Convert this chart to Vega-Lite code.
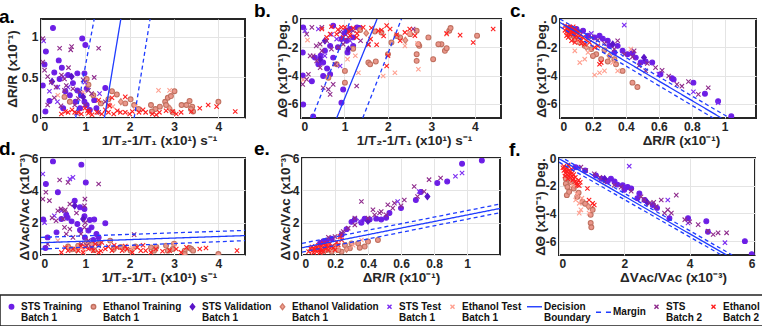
{
  "$schema": "https://vega.github.io/schema/vega-lite/v6.json",
  "background": "white",
  "padding": {"left": -2, "top": 1, "right": 0, "bottom": 0},
  "datasets": {
    "pts": [
      {"p":"a","s":"A","x":0.27,"y":1.11},{"p":"a","s":"A","x":0.93,"y":0.98},{"p":"a","s":"A","x":1.0,"y":0.9},{"p":"a","s":"A","x":0.11,"y":0.82},{"p":"a","s":"A","x":0.4,"y":0.71},{"p":"a","s":"A","x":0.61,"y":0.53},{"p":"a","s":"A","x":0.82,"y":0.55},{"p":"a","s":"A","x":0.98,"y":0.55},{"p":"a","s":"A","x":1.03,"y":0.36},{"p":"a","s":"A","x":0.82,"y":0.34},{"p":"a","s":"A","x":0.19,"y":0.21},{"p":"a","s":"A","x":0.1,"y":0.08},{"p":"a","s":"A","x":1.45,"y":0.37},{"p":"a","s":"A","x":0.04,"y":0.4},{"p":"a","s":"A","x":0.42,"y":0.48},{"p":"a","s":"A","x":0.65,"y":0.28},{"p":"a","s":"A","x":0.9,"y":0.28},{"p":"a","s":"A","x":0.98,"y":0.2},{"p":"a","s":"A","x":1.03,"y":0.16},{"p":"a","s":"A","x":1.1,"y":0.1},{"p":"a","s":"A","x":0.47,"y":0.62},{"p":"a","s":"A","x":0.72,"y":0.43},{"p":"a","s":"A","x":0.55,"y":0.33},{"p":"a","s":"A","x":0.3,"y":0.56},{"p":"a","s":"A","x":1.2,"y":0.22},{"p":"a","s":"A","x":0.88,"y":0.12},{"p":"a","s":"A","x":0.5,"y":0.12},{"p":"a","s":"A","x":0.78,"y":0.2},{"p":"a","s":"A","x":1.25,"y":0.12},{"p":"a","s":"A","x":0.08,"y":0.66},
      {"p":"a","s":"B","x":1.03,"y":0.48},{"p":"a","s":"B","x":1.07,"y":0.41},{"p":"a","s":"B","x":1.6,"y":0.33},{"p":"a","s":"B","x":1.71,"y":0.29},{"p":"a","s":"B","x":1.52,"y":0.23},{"p":"a","s":"B","x":2.02,"y":0.23},{"p":"a","s":"B","x":2.1,"y":0.16},{"p":"a","s":"B","x":2.48,"y":0.16},{"p":"a","s":"B","x":2.58,"y":0.11},{"p":"a","s":"B","x":2.8,"y":0.2},{"p":"a","s":"B","x":2.86,"y":0.25},{"p":"a","s":"B","x":2.93,"y":0.27},{"p":"a","s":"B","x":3.01,"y":0.33},{"p":"a","s":"B","x":2.82,"y":0.16},{"p":"a","s":"B","x":3.17,"y":0.16},{"p":"a","s":"B","x":3.28,"y":0.16},{"p":"a","s":"B","x":3.35,"y":0.21},{"p":"a","s":"B","x":3.41,"y":0.14},{"p":"a","s":"B","x":3.43,"y":0.08},{"p":"a","s":"B","x":4.0,"y":0.2},{"p":"a","s":"B","x":2.68,"y":0.14},{"p":"a","s":"B","x":2.97,"y":0.07},{"p":"a","s":"B","x":2.5,"y":0.08},{"p":"a","s":"B","x":1.18,"y":0.28},{"p":"a","s":"B","x":0.53,"y":0.26},{"p":"a","s":"B","x":0.65,"y":0.2},{"p":"a","s":"B","x":1.35,"y":0.18},{"p":"a","s":"B","x":3.38,"y":0.11},{"p":"a","s":"B","x":2.2,"y":0.11},{"p":"a","s":"B","x":1.9,"y":0.18},
      {"p":"a","s":"C","x":0.69,"y":0.51},{"p":"a","s":"C","x":0.95,"y":0.26},{"p":"a","s":"C","x":0.25,"y":0.45},
      {"p":"a","s":"D","x":1.8,"y":0.2},{"p":"a","s":"D","x":2.9,"y":0.12},
      {"p":"a","s":"E","x":0.38,"y":0.38},{"p":"a","s":"E","x":0.5,"y":0.51},{"p":"a","s":"E","x":0.61,"y":0.38},{"p":"a","s":"E","x":0.37,"y":0.2},{"p":"a","s":"E","x":0.99,"y":0.44},{"p":"a","s":"E","x":0.19,"y":0.33},{"p":"a","s":"E","x":0.06,"y":0.95},{"p":"a","s":"E","x":1.32,"y":0.3},
      {"p":"a","s":"F","x":0.95,"y":0.32},{"p":"a","s":"F","x":2.9,"y":0.34},{"p":"a","s":"F","x":0.38,"y":0.28},{"p":"a","s":"F","x":2.13,"y":0.14},{"p":"a","s":"F","x":2.65,"y":0.34},{"p":"a","s":"F","x":1.62,"y":0.14},
      {"p":"a","s":"I","x":0.08,"y":0.59},{"p":"a","s":"I","x":0.15,"y":0.51},{"p":"a","s":"I","x":0.23,"y":0.44},{"p":"a","s":"I","x":0.34,"y":0.38},{"p":"a","s":"I","x":0.46,"y":0.53},{"p":"a","s":"I","x":0.53,"y":0.48},{"p":"a","s":"I","x":0.57,"y":0.4},{"p":"a","s":"I","x":0.69,"y":0.88},{"p":"a","s":"I","x":0.67,"y":0.84},{"p":"a","s":"I","x":0.42,"y":0.86},{"p":"a","s":"I","x":0.72,"y":0.36},{"p":"a","s":"I","x":0.84,"y":0.24},{"p":"a","s":"I","x":0.88,"y":0.32},{"p":"a","s":"I","x":1.07,"y":0.34},{"p":"a","s":"I","x":1.14,"y":0.3},{"p":"a","s":"I","x":1.3,"y":0.86},{"p":"a","s":"I","x":0.76,"y":0.16},{"p":"a","s":"I","x":0.99,"y":0.16},{"p":"a","s":"I","x":1.3,"y":0.07},{"p":"a","s":"I","x":0.04,"y":0.69},{"p":"a","s":"I","x":0.15,"y":0.16},{"p":"a","s":"I","x":1.45,"y":0.2},{"p":"a","s":"I","x":0.53,"y":0.34},{"p":"a","s":"I","x":0.04,"y":0.98},{"p":"a","s":"I","x":0.62,"y":0.62},{"p":"a","s":"I","x":0.3,"y":0.25},{"p":"a","s":"I","x":0.95,"y":0.47},{"p":"a","s":"I","x":1.2,"y":0.5},{"p":"a","s":"I","x":0.45,"y":0.15},{"p":"a","s":"I","x":0.8,"y":0.06},
      {"p":"a","s":"J","x":0.46,"y":0.05},{"p":"a","s":"J","x":0.61,"y":0.07},{"p":"a","s":"J","x":0.76,"y":0.07},{"p":"a","s":"J","x":0.91,"y":0.05},{"p":"a","s":"J","x":1.07,"y":0.06},{"p":"a","s":"J","x":1.26,"y":0.07},{"p":"a","s":"J","x":1.37,"y":0.05},{"p":"a","s":"J","x":1.52,"y":0.07},{"p":"a","s":"J","x":1.64,"y":0.05},{"p":"a","s":"J","x":1.79,"y":0.07},{"p":"a","s":"J","x":1.9,"y":0.07},{"p":"a","s":"J","x":2.06,"y":0.08},{"p":"a","s":"J","x":2.21,"y":0.07},{"p":"a","s":"J","x":2.36,"y":0.07},{"p":"a","s":"J","x":2.51,"y":0.05},{"p":"a","s":"J","x":2.67,"y":0.07},{"p":"a","s":"J","x":2.82,"y":0.09},{"p":"a","s":"J","x":2.97,"y":0.08},{"p":"a","s":"J","x":3.16,"y":0.07},{"p":"a","s":"J","x":3.39,"y":0.08},{"p":"a","s":"J","x":3.58,"y":0.12},{"p":"a","s":"J","x":3.77,"y":0.16},{"p":"a","s":"J","x":3.96,"y":0.14},{"p":"a","s":"J","x":4.38,"y":0.08},{"p":"a","s":"J","x":0.99,"y":0.12},{"p":"a","s":"J","x":1.1,"y":0.08},{"p":"a","s":"J","x":0.84,"y":0.07},{"p":"a","s":"J","x":1.9,"y":0.26},{"p":"a","s":"J","x":1.52,"y":0.16},{"p":"a","s":"J","x":1.3,"y":0.22},{"p":"a","s":"J","x":1.15,"y":0.04},{"p":"a","s":"J","x":1.45,"y":0.1},{"p":"a","s":"J","x":1.72,"y":0.09},{"p":"a","s":"J","x":2.0,"y":0.05},{"p":"a","s":"J","x":2.3,"y":0.1},{"p":"a","s":"J","x":0.7,"y":0.1},{"p":"a","s":"J","x":1.05,"y":0.09},{"p":"a","s":"J","x":1.6,"y":0.25},{"p":"a","s":"J","x":1.55,"y":0.15},{"p":"a","s":"J","x":2.6,"y":0.04},{"p":"a","s":"J","x":3.05,"y":0.05},{"p":"a","s":"J","x":0.55,"y":0.08},

      {"p":"b","s":"A","x":0.05,"y":-0.59},{"p":"b","s":"A","x":0.04,"y":-2.37},{"p":"b","s":"A","x":0.04,"y":-4.0},{"p":"b","s":"A","x":0.05,"y":-6.04},{"p":"b","s":"A","x":0.32,"y":-2.73},{"p":"b","s":"A","x":0.4,"y":-3.2},{"p":"b","s":"A","x":0.55,"y":-2.25},{"p":"b","s":"A","x":0.51,"y":-3.08},{"p":"b","s":"A","x":0.67,"y":-1.9},{"p":"b","s":"A","x":0.67,"y":-3.9},{"p":"b","s":"A","x":0.74,"y":-2.73},{"p":"b","s":"A","x":0.93,"y":-1.42},{"p":"b","s":"A","x":1.05,"y":-0.83},{"p":"b","s":"A","x":1.05,"y":-1.54},{"p":"b","s":"A","x":1.13,"y":-0.71},{"p":"b","s":"A","x":1.2,"y":-1.3},{"p":"b","s":"A","x":1.29,"y":-0.59},{"p":"b","s":"A","x":1.34,"y":-0.64},{"p":"b","s":"A","x":0.28,"y":-6.9},{"p":"b","s":"A","x":0.93,"y":-5.92},{"p":"b","s":"A","x":0.97,"y":-4.98},{"p":"b","s":"A","x":0.51,"y":-4.03},{"p":"b","s":"A","x":0.74,"y":-0.47},{"p":"b","s":"A","x":1.2,"y":-1.9},{"p":"b","s":"A","x":1.07,"y":-2.37},{"p":"b","s":"A","x":0.25,"y":-4.4},{"p":"b","s":"A","x":0.6,"y":-3.5},{"p":"b","s":"A","x":0.85,"y":-2.0},{"p":"b","s":"A","x":0.45,"y":-2.6},{"p":"b","s":"A","x":1.0,"y":-1.0},
      {"p":"b","s":"B","x":1.01,"y":-4.5},{"p":"b","s":"B","x":1.01,"y":-3.67},{"p":"b","s":"B","x":1.55,"y":-3.08},{"p":"b","s":"B","x":1.59,"y":-3.2},{"p":"b","s":"B","x":1.72,"y":-3.0},{"p":"b","s":"B","x":2.0,"y":-2.49},{"p":"b","s":"B","x":2.08,"y":-1.66},{"p":"b","s":"B","x":2.28,"y":-1.3},{"p":"b","s":"B","x":2.51,"y":-1.07},{"p":"b","s":"B","x":2.66,"y":-0.83},{"p":"b","s":"B","x":2.66,"y":-2.49},{"p":"b","s":"B","x":2.72,"y":-1.9},{"p":"b","s":"B","x":2.93,"y":-1.3},{"p":"b","s":"B","x":2.66,"y":-2.96},{"p":"b","s":"B","x":3.04,"y":-2.84},{"p":"b","s":"B","x":3.23,"y":-1.78},{"p":"b","s":"B","x":3.31,"y":-2.25},{"p":"b","s":"B","x":3.35,"y":-2.06},{"p":"b","s":"B","x":3.41,"y":-0.83},{"p":"b","s":"B","x":3.44,"y":-0.64},{"p":"b","s":"B","x":4.05,"y":-1.18},{"p":"b","s":"B","x":3.16,"y":-1.78},{"p":"b","s":"B","x":2.7,"y":-1.78},{"p":"b","s":"B","x":1.7,"y":-0.88},{"p":"b","s":"B","x":1.85,"y":-0.95},{"p":"b","s":"B","x":1.36,"y":-0.78},{"p":"b","s":"B","x":0.82,"y":-3.2},{"p":"b","s":"B","x":0.63,"y":-4.15},{"p":"b","s":"B","x":1.2,"y":-2.1},{"p":"b","s":"B","x":2.2,"y":-1.2},
      {"p":"b","s":"C","x":0.55,"y":-1.54},{"p":"b","s":"C","x":1.09,"y":-2.13},{"p":"b","s":"C","x":0.44,"y":-2.84},
      {"p":"b","s":"D","x":2.4,"y":-1.5},{"p":"b","s":"D","x":1.5,"y":-1.0},
      {"p":"b","s":"E","x":0.09,"y":-0.83},{"p":"b","s":"E","x":0.4,"y":-0.71},{"p":"b","s":"E","x":0.55,"y":-2.61},{"p":"b","s":"E","x":0.82,"y":-1.42},{"p":"b","s":"E","x":0.9,"y":-3.32},{"p":"b","s":"E","x":1.13,"y":-1.54},{"p":"b","s":"E","x":0.7,"y":-1.1},
      {"p":"b","s":"F","x":1.07,"y":-2.84},{"p":"b","s":"F","x":1.89,"y":-4.03},{"p":"b","s":"F","x":2.16,"y":-3.8},{"p":"b","s":"F","x":2.7,"y":-3.55},{"p":"b","s":"F","x":2.68,"y":-1.73},{"p":"b","s":"F","x":2.39,"y":-1.9},{"p":"b","s":"F","x":1.32,"y":-3.8},{"p":"b","s":"F","x":0.15,"y":-1.49},{"p":"b","s":"F","x":2.5,"y":-1.02},{"p":"b","s":"F","x":3.35,"y":-1.07},{"p":"b","s":"F","x":1.25,"y":-2.6},{"p":"b","s":"F","x":0.05,"y":-4.3},
      {"p":"b","s":"I","x":0.13,"y":-1.07},{"p":"b","s":"I","x":0.25,"y":-0.59},{"p":"b","s":"I","x":0.48,"y":-0.59},{"p":"b","s":"I","x":0.48,"y":-2.25},{"p":"b","s":"I","x":0.28,"y":-2.61},{"p":"b","s":"I","x":0.36,"y":-2.96},{"p":"b","s":"I","x":0.44,"y":-3.44},{"p":"b","s":"I","x":0.51,"y":-4.86},{"p":"b","s":"I","x":0.63,"y":-4.98},{"p":"b","s":"I","x":0.67,"y":-5.33},{"p":"b","s":"I","x":0.74,"y":-4.62},{"p":"b","s":"I","x":0.17,"y":-3.91},{"p":"b","s":"I","x":0.04,"y":-4.62},{"p":"b","s":"I","x":0.13,"y":-4.27},{"p":"b","s":"I","x":0.7,"y":-2.13},{"p":"b","s":"I","x":0.86,"y":-2.01},{"p":"b","s":"I","x":0.97,"y":-1.78},{"p":"b","s":"I","x":1.09,"y":-0.78},{"p":"b","s":"I","x":1.2,"y":-0.83},{"p":"b","s":"I","x":1.37,"y":-1.54},{"p":"b","s":"I","x":1.28,"y":-4.74},{"p":"b","s":"I","x":1.55,"y":-1.78},{"p":"b","s":"I","x":1.09,"y":-1.3},{"p":"b","s":"I","x":2.58,"y":-0.71},{"p":"b","s":"I","x":0.59,"y":-1.54},{"p":"b","s":"I","x":0.44,"y":-1.78},{"p":"b","s":"I","x":0.78,"y":-3.2},{"p":"b","s":"I","x":0.21,"y":-2.61},{"p":"b","s":"I","x":0.9,"y":-0.9},{"p":"b","s":"I","x":0.35,"y":-1.9},
      {"p":"b","s":"J","x":0.48,"y":-0.71},{"p":"b","s":"J","x":0.7,"y":-0.55},{"p":"b","s":"J","x":0.82,"y":-1.07},{"p":"b","s":"J","x":0.93,"y":-0.59},{"p":"b","s":"J","x":1.01,"y":-0.59},{"p":"b","s":"J","x":1.2,"y":-0.64},{"p":"b","s":"J","x":1.29,"y":-1.02},{"p":"b","s":"J","x":1.43,"y":-0.59},{"p":"b","s":"J","x":1.55,"y":-1.82},{"p":"b","s":"J","x":1.6,"y":-1.42},{"p":"b","s":"J","x":1.74,"y":-1.82},{"p":"b","s":"J","x":1.85,"y":-0.78},{"p":"b","s":"J","x":1.97,"y":-0.47},{"p":"b","s":"J","x":2.05,"y":-0.71},{"p":"b","s":"J","x":2.2,"y":-1.11},{"p":"b","s":"J","x":2.39,"y":-0.95},{"p":"b","s":"J","x":2.5,"y":-0.71},{"p":"b","s":"J","x":2.62,"y":-1.18},{"p":"b","s":"J","x":3.35,"y":-1.02},{"p":"b","s":"J","x":3.66,"y":-1.14},{"p":"b","s":"J","x":3.96,"y":-1.66},{"p":"b","s":"J","x":4.42,"y":-0.71},{"p":"b","s":"J","x":1.97,"y":-3.32},{"p":"b","s":"J","x":1.78,"y":-0.83},{"p":"b","s":"J","x":1.62,"y":-0.64},{"p":"b","s":"J","x":0.67,"y":-1.07},{"p":"b","s":"J","x":0.59,"y":-1.3},{"p":"b","s":"J","x":0.97,"y":-1.3},{"p":"b","s":"J","x":1.13,"y":-1.18},{"p":"b","s":"J","x":1.28,"y":-1.3},{"p":"b","s":"J","x":2.28,"y":-1.54},{"p":"b","s":"J","x":1.1,"y":-0.9},{"p":"b","s":"J","x":0.85,"y":-0.75},{"p":"b","s":"J","x":1.9,"y":-1.2},{"p":"b","s":"J","x":2.0,"y":-2.6},

      {"p":"c","s":"A","x":0.1,"y":-0.71},{"p":"c","s":"A","x":0.14,"y":-0.83},{"p":"c","s":"A","x":0.21,"y":-1.3},{"p":"c","s":"A","x":0.24,"y":-1.18},{"p":"c","s":"A","x":0.29,"y":-1.54},{"p":"c","s":"A","x":0.35,"y":-1.9},{"p":"c","s":"A","x":0.38,"y":-2.25},{"p":"c","s":"A","x":0.41,"y":-2.49},{"p":"c","s":"A","x":0.46,"y":-2.73},{"p":"c","s":"A","x":0.49,"y":-3.08},{"p":"c","s":"A","x":0.56,"y":-3.08},{"p":"c","s":"A","x":0.61,"y":-3.91},{"p":"c","s":"A","x":0.68,"y":-4.19},{"p":"c","s":"A","x":0.69,"y":-4.27},{"p":"c","s":"A","x":0.81,"y":-4.5},{"p":"c","s":"A","x":0.88,"y":-5.28},{"p":"c","s":"A","x":0.96,"y":-5.81},{"p":"c","s":"A","x":1.04,"y":-6.88},{"p":"c","s":"A","x":0.17,"y":-1.18},{"p":"c","s":"A","x":0.33,"y":-2.37},{"p":"c","s":"A","x":0.26,"y":-1.4},{"p":"c","s":"A","x":0.44,"y":-2.4},{"p":"c","s":"A","x":0.52,"y":-3.0},{"p":"c","s":"A","x":0.3,"y":-1.9},{"p":"c","s":"A","x":0.06,"y":-0.6},
      {"p":"c","s":"B","x":0.06,"y":-1.18},{"p":"c","s":"B","x":0.09,"y":-1.42},{"p":"c","s":"B","x":0.12,"y":-1.66},{"p":"c","s":"B","x":0.15,"y":-1.9},{"p":"c","s":"B","x":0.19,"y":-2.13},{"p":"c","s":"B","x":0.22,"y":-2.49},{"p":"c","s":"B","x":0.25,"y":-2.84},{"p":"c","s":"B","x":0.29,"y":-3.0},{"p":"c","s":"B","x":0.33,"y":-2.84},{"p":"c","s":"B","x":0.38,"y":-3.67},{"p":"c","s":"B","x":0.44,"y":-4.5},{"p":"c","s":"B","x":0.47,"y":-4.81},{"p":"c","s":"B","x":0.34,"y":-3.2},{"p":"c","s":"B","x":0.2,"y":-2.61},{"p":"c","s":"B","x":0.08,"y":-1.0},{"p":"c","s":"B","x":0.27,"y":-2.2},
      {"p":"c","s":"C","x":0.32,"y":-1.78},{"p":"c","s":"C","x":0.51,"y":-2.73},
      {"p":"c","s":"D","x":0.16,"y":-2.0},{"p":"c","s":"D","x":0.3,"y":-2.6},
      {"p":"c","s":"E","x":0.39,"y":-0.43},{"p":"c","s":"E","x":0.81,"y":-5.14},{"p":"c","s":"E","x":0.96,"y":-5.92},{"p":"c","s":"E","x":0.19,"y":-1.02},{"p":"c","s":"E","x":0.6,"y":-3.9},
      {"p":"c","s":"F","x":0.15,"y":-2.84},{"p":"c","s":"F","x":0.12,"y":-3.08},{"p":"c","s":"F","x":0.21,"y":-3.96},{"p":"c","s":"F","x":0.24,"y":-3.8},{"p":"c","s":"F","x":0.27,"y":-3.67},{"p":"c","s":"F","x":0.35,"y":-3.67},{"p":"c","s":"F","x":0.43,"y":-2.13},{"p":"c","s":"F","x":0.17,"y":-2.37},{"p":"c","s":"F","x":0.09,"y":-2.25},{"p":"c","s":"F","x":0.32,"y":-3.08},{"p":"c","s":"F","x":0.11,"y":-1.6},
      {"p":"c","s":"I","x":0.05,"y":-0.59},{"p":"c","s":"I","x":0.12,"y":-0.88},{"p":"c","s":"I","x":0.19,"y":-1.3},{"p":"c","s":"I","x":0.27,"y":-1.73},{"p":"c","s":"I","x":0.33,"y":-2.13},{"p":"c","s":"I","x":0.39,"y":-2.49},{"p":"c","s":"I","x":0.44,"y":-2.68},{"p":"c","s":"I","x":0.53,"y":-3.15},{"p":"c","s":"I","x":0.58,"y":-3.44},{"p":"c","s":"I","x":0.62,"y":-3.63},{"p":"c","s":"I","x":0.66,"y":-4.03},{"p":"c","s":"I","x":0.71,"y":-4.62},{"p":"c","s":"I","x":0.78,"y":-4.43},{"p":"c","s":"I","x":0.84,"y":-5.33},{"p":"c","s":"I","x":0.9,"y":-4.86},{"p":"c","s":"I","x":0.52,"y":-3.67},{"p":"c","s":"I","x":0.35,"y":-1.54},{"p":"c","s":"I","x":0.45,"y":-2.25},{"p":"c","s":"I","x":0.08,"y":-0.7},{"p":"c","s":"I","x":0.23,"y":-1.5},{"p":"c","s":"I","x":0.48,"y":-3.3},{"p":"c","s":"I","x":0.74,"y":-4.75},
      {"p":"c","s":"J","x":0.03,"y":-0.47},{"p":"c","s":"J","x":0.04,"y":-0.71},{"p":"c","s":"J","x":0.05,"y":-0.95},{"p":"c","s":"J","x":0.06,"y":-0.59},{"p":"c","s":"J","x":0.07,"y":-0.83},{"p":"c","s":"J","x":0.08,"y":-1.07},{"p":"c","s":"J","x":0.09,"y":-0.71},{"p":"c","s":"J","x":0.1,"y":-1.18},{"p":"c","s":"J","x":0.11,"y":-1.3},{"p":"c","s":"J","x":0.12,"y":-1.42},{"p":"c","s":"J","x":0.04,"y":-1.18},{"p":"c","s":"J","x":0.05,"y":-1.3},{"p":"c","s":"J","x":0.07,"y":-1.54},{"p":"c","s":"J","x":0.09,"y":-1.66},{"p":"c","s":"J","x":0.13,"y":-1.73},{"p":"c","s":"J","x":0.15,"y":-1.78},{"p":"c","s":"J","x":0.18,"y":-1.66},{"p":"c","s":"J","x":0.21,"y":-2.01},{"p":"c","s":"J","x":0.23,"y":-1.9},{"p":"c","s":"J","x":0.24,"y":-3.2},{"p":"c","s":"J","x":0.25,"y":-3.08},{"p":"c","s":"J","x":0.06,"y":-0.75},{"p":"c","s":"J","x":0.07,"y":-1.0},{"p":"c","s":"J","x":0.05,"y":-0.6},{"p":"c","s":"J","x":0.08,"y":-0.9},{"p":"c","s":"J","x":0.1,"y":-1.0},{"p":"c","s":"J","x":0.04,"y":-0.9},{"p":"c","s":"J","x":0.06,"y":-1.1},{"p":"c","s":"J","x":0.09,"y":-1.3},{"p":"c","s":"J","x":0.11,"y":-0.9},{"p":"c","s":"J","x":0.13,"y":-1.5},{"p":"c","s":"J","x":0.12,"y":-1.2},{"p":"c","s":"J","x":0.03,"y":-0.8},{"p":"c","s":"J","x":0.16,"y":-1.5},{"p":"c","s":"J","x":0.14,"y":-1.3},{"p":"c","s":"J","x":0.08,"y":-0.55},

      {"p":"d","s":"A","x":0.27,"y":5.79},{"p":"d","s":"A","x":0.91,"y":5.59},{"p":"d","s":"A","x":1.01,"y":4.49},{"p":"d","s":"A","x":0.11,"y":4.39},{"p":"d","s":"A","x":0.38,"y":3.88},{"p":"d","s":"A","x":0.76,"y":3.36},{"p":"d","s":"A","x":0.88,"y":2.95},{"p":"d","s":"A","x":0.98,"y":2.85},{"p":"d","s":"A","x":0.57,"y":2.49},{"p":"d","s":"A","x":1.1,"y":2.16},{"p":"d","s":"A","x":0.46,"y":2.23},{"p":"d","s":"A","x":0.69,"y":2.08},{"p":"d","s":"A","x":0.82,"y":1.92},{"p":"d","s":"A","x":0.88,"y":1.55},{"p":"d","s":"A","x":1.14,"y":1.71},{"p":"d","s":"A","x":1.3,"y":1.09},{"p":"d","s":"A","x":1.45,"y":1.96},{"p":"d","s":"A","x":0.15,"y":1.09},{"p":"d","s":"A","x":0.1,"y":0.43},{"p":"d","s":"A","x":0.99,"y":1.09},{"p":"d","s":"A","x":1.07,"y":1.51},{"p":"d","s":"A","x":1.18,"y":0.93},{"p":"d","s":"A","x":0.6,"y":2.3},{"p":"d","s":"A","x":0.98,"y":2.4},{"p":"d","s":"A","x":1.2,"y":2.2},{"p":"d","s":"A","x":0.35,"y":1.4},{"p":"d","s":"A","x":1.25,"y":1.3},{"p":"d","s":"A","x":0.05,"y":2.2},
      {"p":"d","s":"B","x":0.61,"y":0.52},{"p":"d","s":"B","x":0.84,"y":0.58},{"p":"d","s":"B","x":1.03,"y":0.78},{"p":"d","s":"B","x":1.14,"y":0.64},{"p":"d","s":"B","x":1.3,"y":0.68},{"p":"d","s":"B","x":1.64,"y":0.37},{"p":"d","s":"B","x":2.02,"y":0.27},{"p":"d","s":"B","x":2.13,"y":0.52},{"p":"d","s":"B","x":2.48,"y":0.47},{"p":"d","s":"B","x":2.55,"y":0.27},{"p":"d","s":"B","x":2.82,"y":0.58},{"p":"d","s":"B","x":2.97,"y":0.37},{"p":"d","s":"B","x":3.24,"y":0.27},{"p":"d","s":"B","x":3.35,"y":0.43},{"p":"d","s":"B","x":3.39,"y":0.37},{"p":"d","s":"B","x":3.43,"y":0.27},{"p":"d","s":"B","x":3.24,"y":0.06},{"p":"d","s":"B","x":4.0,"y":0.06},{"p":"d","s":"B","x":2.86,"y":0.27},{"p":"d","s":"B","x":1.56,"y":0.89},{"p":"d","s":"B","x":1.2,"y":0.3},{"p":"d","s":"B","x":0.7,"y":0.35},{"p":"d","s":"B","x":2.6,"y":0.5},{"p":"d","s":"B","x":1.8,"y":0.5},{"p":"d","s":"B","x":3.0,"y":0.7},
      {"p":"d","s":"C","x":0.76,"y":3.05},{"p":"d","s":"C","x":0.95,"y":2.23},
      {"p":"d","s":"D","x":1.9,"y":0.4},{"p":"d","s":"D","x":0.8,"y":0.3},
      {"p":"d","s":"E","x":0.04,"y":5.01},{"p":"d","s":"E","x":0.46,"y":2.74},{"p":"d","s":"E","x":0.72,"y":4.8},{"p":"d","s":"E","x":0.65,"y":4.7},{"p":"d","s":"E","x":0.3,"y":2.43},{"p":"d","s":"E","x":1.14,"y":0.47},{"p":"d","s":"E","x":0.08,"y":2.0},
      {"p":"d","s":"F","x":0.38,"y":0.89},{"p":"d","s":"F","x":3.01,"y":0.68},{"p":"d","s":"F","x":2.06,"y":0.43},{"p":"d","s":"F","x":0.95,"y":0.3},
      {"p":"d","s":"I","x":0.04,"y":3.46},{"p":"d","s":"I","x":0.11,"y":3.88},{"p":"d","s":"I","x":0.19,"y":3.36},{"p":"d","s":"I","x":0.42,"y":4.64},{"p":"d","s":"I","x":0.61,"y":4.49},{"p":"d","s":"I","x":0.65,"y":3.15},{"p":"d","s":"I","x":0.53,"y":2.74},{"p":"d","s":"I","x":0.38,"y":2.74},{"p":"d","s":"I","x":0.5,"y":2.23},{"p":"d","s":"I","x":0.34,"y":2.12},{"p":"d","s":"I","x":0.53,"y":1.71},{"p":"d","s":"I","x":0.57,"y":1.3},{"p":"d","s":"I","x":0.72,"y":1.09},{"p":"d","s":"I","x":0.91,"y":0.68},{"p":"d","s":"I","x":1.03,"y":0.58},{"p":"d","s":"I","x":0.99,"y":3.46},{"p":"d","s":"I","x":0.98,"y":3.05},{"p":"d","s":"I","x":1.3,"y":4.39},{"p":"d","s":"I","x":1.07,"y":0.89},{"p":"d","s":"I","x":0.9,"y":1.3},{"p":"d","s":"I","x":0.98,"y":1.71},{"p":"d","s":"I","x":2.1,"y":1.26},{"p":"d","s":"I","x":0.15,"y":0.68},{"p":"d","s":"I","x":1.3,"y":0.58},{"p":"d","s":"I","x":0.45,"y":2.85},{"p":"d","s":"I","x":0.55,"y":2.8},{"p":"d","s":"I","x":0.8,"y":2.6},{"p":"d","s":"I","x":1.0,"y":2.0},{"p":"d","s":"I","x":0.65,"y":1.6},{"p":"d","s":"I","x":0.25,"y":2.3},
      {"p":"d","s":"J","x":0.46,"y":0.16},{"p":"d","s":"J","x":0.61,"y":0.27},{"p":"d","s":"J","x":0.72,"y":0.37},{"p":"d","s":"J","x":0.84,"y":0.27},{"p":"d","s":"J","x":0.95,"y":0.16},{"p":"d","s":"J","x":1.07,"y":0.37},{"p":"d","s":"J","x":1.18,"y":0.27},{"p":"d","s":"J","x":1.3,"y":0.16},{"p":"d","s":"J","x":1.45,"y":0.37},{"p":"d","s":"J","x":1.6,"y":0.27},{"p":"d","s":"J","x":1.71,"y":0.47},{"p":"d","s":"J","x":1.83,"y":0.27},{"p":"d","s":"J","x":1.94,"y":0.37},{"p":"d","s":"J","x":2.06,"y":0.16},{"p":"d","s":"J","x":2.17,"y":0.47},{"p":"d","s":"J","x":2.25,"y":0.27},{"p":"d","s":"J","x":2.36,"y":0.27},{"p":"d","s":"J","x":2.48,"y":0.16},{"p":"d","s":"J","x":2.59,"y":0.37},{"p":"d","s":"J","x":2.74,"y":0.23},{"p":"d","s":"J","x":2.9,"y":0.27},{"p":"d","s":"J","x":3.05,"y":0.37},{"p":"d","s":"J","x":3.16,"y":0.16},{"p":"d","s":"J","x":3.28,"y":0.47},{"p":"d","s":"J","x":3.58,"y":0.37},{"p":"d","s":"J","x":3.72,"y":0.43},{"p":"d","s":"J","x":4.42,"y":0.27},{"p":"d","s":"J","x":1.22,"y":0.68},{"p":"d","s":"J","x":1.37,"y":0.78},{"p":"d","s":"J","x":1.52,"y":0.52},{"p":"d","s":"J","x":1.0,"y":0.5},{"p":"d","s":"J","x":1.15,"y":0.45},{"p":"d","s":"J","x":0.9,"y":0.55},{"p":"d","s":"J","x":1.65,"y":0.6},{"p":"d","s":"J","x":1.9,"y":0.55},{"p":"d","s":"J","x":2.3,"y":0.6},{"p":"d","s":"J","x":0.55,"y":0.45},{"p":"d","s":"J","x":1.35,"y":0.25},

      {"p":"e","s":"A","x":1.09,"y":5.85},{"p":"e","s":"A","x":0.97,"y":5.65},{"p":"e","s":"A","x":0.82,"y":4.45},{"p":"e","s":"A","x":0.88,"y":4.55},{"p":"e","s":"A","x":0.69,"y":3.4},{"p":"e","s":"A","x":0.48,"y":2.2},{"p":"e","s":"A","x":0.41,"y":2.2},{"p":"e","s":"A","x":0.36,"y":2.0},{"p":"e","s":"A","x":0.3,"y":2.05},{"p":"e","s":"A","x":0.13,"y":0.85},{"p":"e","s":"A","x":0.11,"y":0.75},{"p":"e","s":"A","x":0.51,"y":2.3},{"p":"e","s":"A","x":0.32,"y":2.2},{"p":"e","s":"A","x":0.24,"y":1.25},{"p":"e","s":"A","x":0.72,"y":3.9},{"p":"e","s":"A","x":0.6,"y":2.9},{"p":"e","s":"A","x":0.45,"y":2.25},{"p":"e","s":"A","x":0.38,"y":2.25},{"p":"e","s":"A","x":0.18,"y":1.0},{"p":"e","s":"A","x":0.15,"y":0.9},{"p":"e","s":"A","x":0.53,"y":2.6},{"p":"e","s":"A","x":0.27,"y":1.6},
      {"p":"e","s":"B","x":0.2,"y":0.52},{"p":"e","s":"B","x":0.26,"y":0.62},{"p":"e","s":"B","x":0.3,"y":0.72},{"p":"e","s":"B","x":0.34,"y":0.72},{"p":"e","s":"B","x":0.4,"y":0.83},{"p":"e","s":"B","x":0.46,"y":0.93},{"p":"e","s":"B","x":0.18,"y":0.21},{"p":"e","s":"B","x":0.15,"y":0.31},{"p":"e","s":"B","x":0.12,"y":0.21},{"p":"e","s":"B","x":0.24,"y":0.21},{"p":"e","s":"B","x":0.29,"y":0.41},{"p":"e","s":"B","x":0.38,"y":0.52},{"p":"e","s":"B","x":0.22,"y":0.3},{"p":"e","s":"B","x":0.35,"y":0.45},
      {"p":"e","s":"C","x":0.76,"y":3.62},{"p":"e","s":"C","x":0.4,"y":2.1},
      {"p":"e","s":"D","x":0.27,"y":0.35},{"p":"e","s":"D","x":0.17,"y":0.4},
      {"p":"e","s":"E","x":0.97,"y":5.07},{"p":"e","s":"E","x":0.93,"y":4.87},{"p":"e","s":"E","x":0.71,"y":3.93},{"p":"e","s":"E","x":0.58,"y":3.31},{"p":"e","s":"E","x":0.35,"y":2.1},
      {"p":"e","s":"F","x":0.22,"y":0.52},{"p":"e","s":"F","x":0.36,"y":0.93},{"p":"e","s":"F","x":0.17,"y":0.41},{"p":"e","s":"F","x":0.31,"y":0.6},
      {"p":"e","s":"I","x":0.68,"y":4.24},{"p":"e","s":"I","x":0.77,"y":4.66},{"p":"e","s":"I","x":0.84,"y":4.76},{"p":"e","s":"I","x":0.36,"y":3.31},{"p":"e","s":"I","x":0.48,"y":2.69},{"p":"e","s":"I","x":0.52,"y":3.11},{"p":"e","s":"I","x":0.56,"y":3.21},{"p":"e","s":"I","x":0.51,"y":2.48},{"p":"e","s":"I","x":0.44,"y":2.48},{"p":"e","s":"I","x":0.4,"y":2.28},{"p":"e","s":"I","x":0.32,"y":1.86},{"p":"e","s":"I","x":0.28,"y":1.66},{"p":"e","s":"I","x":0.24,"y":1.35},{"p":"e","s":"I","x":0.2,"y":1.14},{"p":"e","s":"I","x":0.32,"y":2.28},{"p":"e","s":"I","x":0.7,"y":3.62},{"p":"e","s":"I","x":0.74,"y":3.93},{"p":"e","s":"I","x":0.43,"y":2.8},{"p":"e","s":"I","x":0.25,"y":1.45},{"p":"e","s":"I","x":0.62,"y":3.4},{"p":"e","s":"I","x":0.55,"y":2.9},{"p":"e","s":"I","x":0.6,"y":3.05},{"p":"e","s":"I","x":0.16,"y":1.1},{"p":"e","s":"I","x":0.47,"y":2.6},
      {"p":"e","s":"J","x":0.04,"y":0.21},{"p":"e","s":"J","x":0.05,"y":0.41},{"p":"e","s":"J","x":0.07,"y":0.31},{"p":"e","s":"J","x":0.08,"y":0.52},{"p":"e","s":"J","x":0.09,"y":0.21},{"p":"e","s":"J","x":0.1,"y":0.41},{"p":"e","s":"J","x":0.11,"y":0.31},{"p":"e","s":"J","x":0.12,"y":0.52},{"p":"e","s":"J","x":0.13,"y":0.21},{"p":"e","s":"J","x":0.14,"y":0.41},{"p":"e","s":"J","x":0.15,"y":0.62},{"p":"e","s":"J","x":0.16,"y":0.31},{"p":"e","s":"J","x":0.17,"y":0.72},{"p":"e","s":"J","x":0.18,"y":0.52},{"p":"e","s":"J","x":0.2,"y":0.31},{"p":"e","s":"J","x":0.22,"y":0.62},{"p":"e","s":"J","x":0.24,"y":0.93},{"p":"e","s":"J","x":0.23,"y":1.14},{"p":"e","s":"J","x":0.06,"y":0.25},{"p":"e","s":"J","x":0.08,"y":0.35},{"p":"e","s":"J","x":0.1,"y":0.6},{"p":"e","s":"J","x":0.12,"y":0.3},{"p":"e","s":"J","x":0.14,"y":0.6},{"p":"e","s":"J","x":0.09,"y":0.45},{"p":"e","s":"J","x":0.06,"y":0.5},{"p":"e","s":"J","x":0.16,"y":0.5},{"p":"e","s":"J","x":0.11,"y":0.15},{"p":"e","s":"J","x":0.07,"y":0.15},{"p":"e","s":"J","x":0.19,"y":0.45},{"p":"e","s":"J","x":0.13,"y":0.7},{"p":"e","s":"J","x":0.21,"y":0.8},

      {"p":"f","s":"A","x":0.51,"y":-0.66},{"p":"f","s":"A","x":1.13,"y":-1.26},{"p":"f","s":"A","x":1.59,"y":-1.49},{"p":"f","s":"A","x":1.79,"y":-1.92},{"p":"f","s":"A","x":1.95,"y":-1.97},{"p":"f","s":"A","x":2.1,"y":-2.09},{"p":"f","s":"A","x":2.46,"y":-2.56},{"p":"f","s":"A","x":2.62,"y":-3.03},{"p":"f","s":"A","x":2.87,"y":-3.39},{"p":"f","s":"A","x":3.38,"y":-4.34},{"p":"f","s":"A","x":3.95,"y":-4.34},{"p":"f","s":"A","x":4.51,"y":-4.57},{"p":"f","s":"A","x":4.56,"y":-5.33},{"p":"f","s":"A","x":5.69,"y":-6.0},{"p":"f","s":"A","x":5.9,"y":-6.94},{"p":"f","s":"A","x":1.49,"y":-1.68},{"p":"f","s":"A","x":2.21,"y":-2.2},{"p":"f","s":"A","x":0.8,"y":-0.9},{"p":"f","s":"A","x":1.3,"y":-1.5},{"p":"f","s":"A","x":2.0,"y":-2.3},{"p":"f","s":"A","x":2.4,"y":-2.9},{"p":"f","s":"A","x":3.0,"y":-3.6},{"p":"f","s":"A","x":1.7,"y":-1.7},
      {"p":"f","s":"B","x":0.21,"y":-1.85},{"p":"f","s":"B","x":0.26,"y":-2.09},{"p":"f","s":"B","x":0.24,"y":-2.68},{"p":"f","s":"B","x":0.31,"y":-2.44},{"p":"f","s":"B","x":0.56,"y":-2.8},{"p":"f","s":"B","x":0.72,"y":-3.15},{"p":"f","s":"B","x":0.97,"y":-4.1},{"p":"f","s":"B","x":1.03,"y":-3.74},{"p":"f","s":"B","x":0.97,"y":-4.69},{"p":"f","s":"B","x":0.99,"y":-5.0},{"p":"f","s":"B","x":0.21,"y":-1.49},{"p":"f","s":"B","x":0.36,"y":-1.73},{"p":"f","s":"B","x":0.45,"y":-2.2},{"p":"f","s":"B","x":0.6,"y":-2.5},{"p":"f","s":"B","x":0.8,"y":-3.3},
      {"p":"f","s":"C","x":1.4,"y":-1.5},{"p":"f","s":"C","x":2.7,"y":-3.2},
      {"p":"f","s":"D","x":0.5,"y":-2.0},{"p":"f","s":"D","x":0.9,"y":-3.5},
      {"p":"f","s":"E","x":2.15,"y":-0.59},{"p":"f","s":"E","x":5.08,"y":-6.11},{"p":"f","s":"E","x":3.95,"y":-4.69},{"p":"f","s":"E","x":3.33,"y":-3.03},{"p":"f","s":"E","x":0.6,"y":-0.7},
      {"p":"f","s":"F","x":0.51,"y":-3.03},{"p":"f","s":"F","x":0.62,"y":-3.27},{"p":"f","s":"F","x":0.67,"y":-3.74},{"p":"f","s":"F","x":0.62,"y":-3.98},{"p":"f","s":"F","x":0.92,"y":-3.98},{"p":"f","s":"F","x":0.41,"y":-1.97},{"p":"f","s":"F","x":0.55,"y":-2.6},{"p":"f","s":"F","x":0.7,"y":-2.9},
      {"p":"f","s":"I","x":0.67,"y":-0.66},{"p":"f","s":"I","x":1.08,"y":-1.14},{"p":"f","s":"I","x":1.38,"y":-1.73},{"p":"f","s":"I","x":1.69,"y":-1.97},{"p":"f","s":"I","x":2.21,"y":-2.39},{"p":"f","s":"I","x":2.51,"y":-2.8},{"p":"f","s":"I","x":2.77,"y":-3.27},{"p":"f","s":"I","x":2.97,"y":-3.51},{"p":"f","s":"I","x":3.13,"y":-3.03},{"p":"f","s":"I","x":3.23,"y":-3.98},{"p":"f","s":"I","x":3.44,"y":-3.98},{"p":"f","s":"I","x":3.59,"y":-2.68},{"p":"f","s":"I","x":3.85,"y":-4.45},{"p":"f","s":"I","x":4.26,"y":-4.81},{"p":"f","s":"I","x":4.56,"y":-5.28},{"p":"f","s":"I","x":4.72,"y":-5.52},{"p":"f","s":"I","x":4.87,"y":-5.4},{"p":"f","s":"I","x":5.13,"y":-5.4},{"p":"f","s":"I","x":3.33,"y":-3.74},{"p":"f","s":"I","x":0.82,"y":-0.9},{"p":"f","s":"I","x":1.9,"y":-2.1},{"p":"f","s":"I","x":2.6,"y":-3.0},{"p":"f","s":"I","x":4.0,"y":-4.6},{"p":"f","s":"I","x":1.25,"y":-1.4},{"p":"f","s":"I","x":2.9,"y":-3.2},
      {"p":"f","s":"J","x":0.15,"y":-0.6},{"p":"f","s":"J","x":0.2,"y":-0.8},{"p":"f","s":"J","x":0.25,"y":-0.7},{"p":"f","s":"J","x":0.3,"y":-0.9},{"p":"f","s":"J","x":0.35,"y":-1.0},{"p":"f","s":"J","x":0.4,"y":-1.1},{"p":"f","s":"J","x":0.2,"y":-1.1},{"p":"f","s":"J","x":0.25,"y":-1.2},{"p":"f","s":"J","x":0.3,"y":-1.3},{"p":"f","s":"J","x":0.35,"y":-1.4},{"p":"f","s":"J","x":0.45,"y":-1.5},{"p":"f","s":"J","x":0.5,"y":-1.7},{"p":"f","s":"J","x":0.55,"y":-1.8},{"p":"f","s":"J","x":0.56,"y":-1.97},{"p":"f","s":"J","x":0.87,"y":-2.2},{"p":"f","s":"J","x":0.92,"y":-3.03},{"p":"f","s":"J","x":1.03,"y":-3.27},{"p":"f","s":"J","x":1.08,"y":-3.39},{"p":"f","s":"J","x":0.15,"y":-0.9},{"p":"f","s":"J","x":0.18,"y":-1.3},{"p":"f","s":"J","x":0.28,"y":-0.5},{"p":"f","s":"J","x":0.4,"y":-1.3},{"p":"f","s":"J","x":0.45,"y":-1.2},{"p":"f","s":"J","x":0.22,"y":-0.95},{"p":"f","s":"J","x":0.33,"y":-1.15},{"p":"f","s":"J","x":0.5,"y":-1.4},{"p":"f","s":"J","x":0.6,"y":-1.6},{"p":"f","s":"J","x":0.38,"y":-0.8},{"p":"f","s":"J","x":0.12,"y":-0.7},{"p":"f","s":"J","x":0.27,"y":-1.5},{"p":"f","s":"J","x":0.62,"y":-2.0},{"p":"f","s":"J","x":0.65,"y":-1.75},{"p":"f","s":"J","x":0.42,"y":-1.6}
    ],
    "lines": [
      {"p":"a","k":"b","x":1.43,"y":0,"x2":1.8,"y2":1.22},{"p":"a","k":"m","x":0.78,"y":0,"x2":1.2,"y2":1.22},{"p":"a","k":"m","x":2.1,"y":0,"x2":2.46,"y2":1.22},
      {"p":"b","k":"b","x":0.82,"y":-7,"x2":1.75,"y2":0},{"p":"b","k":"m","x":0.25,"y":-7,"x2":1.15,"y2":0},{"p":"b","k":"m","x":1.42,"y":-7,"x2":2.31,"y2":0},
      {"p":"c","k":"b","x":0,"y":-0.25,"x2":0.98,"y2":-7},{"p":"c","k":"m","x":0,"y":0,"x2":1.03,"y2":-7},{"p":"c","k":"m","x":0,"y":-0.55,"x2":0.93,"y2":-7},
      {"p":"d","k":"b","x":0,"y":0.76,"x2":4.6,"y2":1.2},{"p":"d","k":"m","x":0,"y":1.09,"x2":4.6,"y2":1.52},{"p":"d","k":"m","x":0,"y":0.37,"x2":4.6,"y2":0.89},
      {"p":"e","k":"b","x":0,"y":0.45,"x2":1.2,"y2":2.88},{"p":"e","k":"m","x":0,"y":0.72,"x2":1.2,"y2":3.15},{"p":"e","k":"m","x":0,"y":0.18,"x2":1.2,"y2":2.62},
      {"p":"f","k":"b","x":0,"y":-0.05,"x2":5.13,"y2":-7},{"p":"f","k":"m","x":0,"y":0.15,"x2":5.3,"y2":-7},{"p":"f","k":"m","x":0,"y":-0.3,"x2":4.97,"y2":-7}
    ]
  },
  "vconcat": [
    {
      "hconcat": [
        {
          "width": 204, "height": 99,
          "title": {"text": "a.", "dx": -42},
          "encoding": {
            "x": {"field": "x", "type": "quantitative", "scale": {"domain": [0, 4.6], "nice": false, "zero": false}, "axis": {"values": [0, 1, 2, 3, 4], "title": "1/T₂-1/T₁  (x10¹)  s⁻¹", "titleX": 118}},
            "y": {"field": "y", "type": "quantitative", "scale": {"domain": [0, 1.22], "nice": false, "zero": false}, "axis": {"values": [0, 0.5, 1], "title": "ΔR/R  (x10⁻¹)", "titlePadding": 2}}
          },
          "layer": [
            {
              "data": {"name": "pts"},
              "transform": [{"filter": "datum.p === 'a'"}],
              "mark": {"type": "point", "size": 260, "strokeWidth": 1.1, "opacity": 1, "clip": true},
              "encoding": {
                "shape": {"field": "s", "type": "nominal", "scale": {"domain": ["A","B","C","D","E","F","G","H","I","J"], "range": ["M-0.3,0a0.3,0.3 0 1,0 0.6,0a0.3,0.3 0 1,0 -0.6,0Z","M-0.3,0a0.3,0.3 0 1,0 0.6,0a0.3,0.3 0 1,0 -0.6,0Z","M0,-0.38L0.3,0L0,0.38L-0.3,0Z","M0,-0.38L0.3,0L0,0.38L-0.3,0Z","M-0.27,-0.27L0.27,0.27M-0.27,0.27L0.27,-0.27","M-0.27,-0.27L0.27,0.27M-0.27,0.27L0.27,-0.27","M-1,0L1,0","M-1,0L-0.33,0M0.33,0L1,0","M-0.27,-0.27L0.27,0.27M-0.27,0.27L0.27,-0.27","M-0.27,-0.27L0.27,0.27M-0.27,0.27L0.27,-0.27"]},
                  "legend": {"orient": "none", "legendX": -41, "legendY": 276, "direction": "horizontal", "columns": 10, "title": null, "labelExpr": "{'A':['STS Training','Batch 1'],'B':['Ethanol Training','Batch 1'],'C':['STS Validation','Batch 1'],'D':['Ethanol Validation','Batch 1'],'E':['STS Test','Batch 1'],'F':['Ethanol Test','Batch 1'],'G':['Decision','Boundary'],'H':['Margin'],'I':['STS','Batch 2'],'J':['Ethanol','Batch 2']}[datum.label]"}},
                "fill": {"field": "s", "type": "nominal", "scale": {"domain": ["A","B","C","D","E","F","G","H","I","J"], "range": ["#6c1ee6","#e9968a","#5a14c8","#f2a08f","#7b2cf2","#ffa090","#1f3cff","#1f3cff","#8e2a8c","#ff1e1e"]},
                  "legend": {"orient": "none", "legendX": -41, "legendY": 276, "direction": "horizontal", "columns": 10, "title": null, "labelExpr": "{'A':['STS Training','Batch 1'],'B':['Ethanol Training','Batch 1'],'C':['STS Validation','Batch 1'],'D':['Ethanol Validation','Batch 1'],'E':['STS Test','Batch 1'],'F':['Ethanol Test','Batch 1'],'G':['Decision','Boundary'],'H':['Margin'],'I':['STS','Batch 2'],'J':['Ethanol','Batch 2']}[datum.label]"}},
                "stroke": {"field": "s", "type": "nominal", "scale": {"domain": ["A","B","C","D","E","F","G","H","I","J"], "range": ["#6c1ee6","#c0705f","#5a14c8","#d07c6c","#7b2cf2","#ffa090","#1f3cff","#1f3cff","#8e2a8c","#ff1e1e"]},
                  "legend": {"orient": "none", "legendX": -41, "legendY": 276, "direction": "horizontal", "columns": 10, "title": null, "labelExpr": "{'A':['STS Training','Batch 1'],'B':['Ethanol Training','Batch 1'],'C':['STS Validation','Batch 1'],'D':['Ethanol Validation','Batch 1'],'E':['STS Test','Batch 1'],'F':['Ethanol Test','Batch 1'],'G':['Decision','Boundary'],'H':['Margin'],'I':['STS','Batch 2'],'J':['Ethanol','Batch 2']}[datum.label]"}}
              }
            },
            {
              "data": {"name": "lines"},
              "transform": [{"filter": "datum.p === 'a'"}],
              "mark": {"type": "rule", "color": "#1f3cff", "strokeWidth": 1.3, "clip": true},
              "encoding": {
                "x2": {"field": "x2"}, "y2": {"field": "y2"},
                "strokeDash": {"field": "k", "type": "nominal", "scale": {"domain": ["b", "m"], "range": [[1, 0], [4, 3]]}, "legend": null}
              }
            }
          ]
        },
        {
          "width": 200, "height": 99,
          "title": {"text": "b.", "dx": -47},
          "encoding": {
            "x": {"field": "x", "type": "quantitative", "scale": {"domain": [0, 4.6], "nice": false, "zero": false}, "axis": {"values": [0, 1, 2, 3, 4], "title": "1/T₂-1/T₁  (x10¹)  s⁻¹", "titleX": 113}},
            "y": {"field": "y", "type": "quantitative", "scale": {"domain": [-7, 0], "nice": false, "zero": false}, "axis": {"values": [0, -2, -4, -6], "title": "ΔΘ  (x10⁻¹)  Deg.", "titlePadding": -2}}
          },
          "layer": [
            {
              "data": {"name": "pts"},
              "transform": [{"filter": "datum.p === 'b'"}],
              "mark": {"type": "point", "size": 260, "strokeWidth": 1.1, "opacity": 1, "clip": true},
              "encoding": {
                "shape": {"field": "s", "type": "nominal", "scale": {"domain": ["A","B","C","D","E","F","G","H","I","J"], "range": ["M-0.3,0a0.3,0.3 0 1,0 0.6,0a0.3,0.3 0 1,0 -0.6,0Z","M-0.3,0a0.3,0.3 0 1,0 0.6,0a0.3,0.3 0 1,0 -0.6,0Z","M0,-0.38L0.3,0L0,0.38L-0.3,0Z","M0,-0.38L0.3,0L0,0.38L-0.3,0Z","M-0.27,-0.27L0.27,0.27M-0.27,0.27L0.27,-0.27","M-0.27,-0.27L0.27,0.27M-0.27,0.27L0.27,-0.27","M-1,0L1,0","M-1,0L-0.33,0M0.33,0L1,0","M-0.27,-0.27L0.27,0.27M-0.27,0.27L0.27,-0.27","M-0.27,-0.27L0.27,0.27M-0.27,0.27L0.27,-0.27"]}, "legend": null},
                "fill": {"field": "s", "type": "nominal", "scale": {"domain": ["A","B","C","D","E","F","G","H","I","J"], "range": ["#6c1ee6","#e9968a","#5a14c8","#f2a08f","#7b2cf2","#ffa090","#1f3cff","#1f3cff","#8e2a8c","#ff1e1e"]}, "legend": null},
                "stroke": {"field": "s", "type": "nominal", "scale": {"domain": ["A","B","C","D","E","F","G","H","I","J"], "range": ["#6c1ee6","#c0705f","#5a14c8","#d07c6c","#7b2cf2","#ffa090","#1f3cff","#1f3cff","#8e2a8c","#ff1e1e"]}, "legend": null}
              }
            },
            {
              "data": {"name": "lines"},
              "transform": [{"filter": "datum.p === 'b'"}],
              "mark": {"type": "rule", "color": "#1f3cff", "strokeWidth": 1.3, "clip": true},
              "encoding": {
                "x2": {"field": "x2"}, "y2": {"field": "y2"},
                "strokeDash": {"field": "k", "type": "nominal", "scale": {"domain": ["b", "m"], "range": [[1, 0], [4, 3]]}, "legend": null}
              }
            }
          ]
        },
        {
          "width": 196, "height": 99,
          "title": {"text": "c.", "dx": -50},
          "encoding": {
            "x": {"field": "x", "type": "quantitative", "scale": {"domain": [0, 1.19], "nice": false, "zero": false}, "axis": {"values": [0, 0.2, 0.4, 0.6, 0.8, 1], "title": "ΔR/R  (x10⁻¹)", "titleX": 121}},
            "y": {"field": "y", "type": "quantitative", "scale": {"domain": [-7, 0], "nice": false, "zero": false}, "axis": {"values": [0, -2, -4, -6], "title": "ΔΘ  (x10⁻¹)  Deg.", "titlePadding": -2}}
          },
          "layer": [
            {
              "data": {"name": "pts"},
              "transform": [{"filter": "datum.p === 'c'"}],
              "mark": {"type": "point", "size": 260, "strokeWidth": 1.1, "opacity": 1, "clip": true},
              "encoding": {
                "shape": {"field": "s", "type": "nominal", "scale": {"domain": ["A","B","C","D","E","F","G","H","I","J"], "range": ["M-0.3,0a0.3,0.3 0 1,0 0.6,0a0.3,0.3 0 1,0 -0.6,0Z","M-0.3,0a0.3,0.3 0 1,0 0.6,0a0.3,0.3 0 1,0 -0.6,0Z","M0,-0.38L0.3,0L0,0.38L-0.3,0Z","M0,-0.38L0.3,0L0,0.38L-0.3,0Z","M-0.27,-0.27L0.27,0.27M-0.27,0.27L0.27,-0.27","M-0.27,-0.27L0.27,0.27M-0.27,0.27L0.27,-0.27","M-1,0L1,0","M-1,0L-0.33,0M0.33,0L1,0","M-0.27,-0.27L0.27,0.27M-0.27,0.27L0.27,-0.27","M-0.27,-0.27L0.27,0.27M-0.27,0.27L0.27,-0.27"]}, "legend": null},
                "fill": {"field": "s", "type": "nominal", "scale": {"domain": ["A","B","C","D","E","F","G","H","I","J"], "range": ["#6c1ee6","#e9968a","#5a14c8","#f2a08f","#7b2cf2","#ffa090","#1f3cff","#1f3cff","#8e2a8c","#ff1e1e"]}, "legend": null},
                "stroke": {"field": "s", "type": "nominal", "scale": {"domain": ["A","B","C","D","E","F","G","H","I","J"], "range": ["#6c1ee6","#c0705f","#5a14c8","#d07c6c","#7b2cf2","#ffa090","#1f3cff","#1f3cff","#8e2a8c","#ff1e1e"]}, "legend": null}
              }
            },
            {
              "data": {"name": "lines"},
              "transform": [{"filter": "datum.p === 'c'"}],
              "mark": {"type": "rule", "color": "#1f3cff", "strokeWidth": 1.3, "clip": true},
              "encoding": {
                "x2": {"field": "x2"}, "y2": {"field": "y2"},
                "strokeDash": {"field": "k", "type": "nominal", "scale": {"domain": ["b", "m"], "range": [[1, 0], [4, 3]]}, "legend": null}
              }
            }
          ]
        }
      ]
    },
    {
      "hconcat": [
        {
          "width": 204, "height": 97,
          "title": {"text": "d.", "dx": -42},
          "encoding": {
            "x": {"field": "x", "type": "quantitative", "scale": {"domain": [0, 4.6], "nice": false, "zero": false}, "axis": {"values": [0, 1, 2, 3, 4], "title": "1/T₂-1/T₁  (x10¹)  s⁻¹", "titleX": 118}},
            "y": {"field": "y", "type": "quantitative", "scale": {"domain": [0, 6], "nice": false, "zero": false}, "axis": {"values": [0, 2, 4, 6], "title": "ΔVᴀᴄ/Vᴀᴄ  (x10⁻³)", "titlePadding": 0}}
          },
          "layer": [
            {
              "data": {"name": "pts"},
              "transform": [{"filter": "datum.p === 'd'"}],
              "mark": {"type": "point", "size": 260, "strokeWidth": 1.1, "opacity": 1, "clip": true},
              "encoding": {
                "shape": {"field": "s", "type": "nominal", "scale": {"domain": ["A","B","C","D","E","F","G","H","I","J"], "range": ["M-0.3,0a0.3,0.3 0 1,0 0.6,0a0.3,0.3 0 1,0 -0.6,0Z","M-0.3,0a0.3,0.3 0 1,0 0.6,0a0.3,0.3 0 1,0 -0.6,0Z","M0,-0.38L0.3,0L0,0.38L-0.3,0Z","M0,-0.38L0.3,0L0,0.38L-0.3,0Z","M-0.27,-0.27L0.27,0.27M-0.27,0.27L0.27,-0.27","M-0.27,-0.27L0.27,0.27M-0.27,0.27L0.27,-0.27","M-1,0L1,0","M-1,0L-0.33,0M0.33,0L1,0","M-0.27,-0.27L0.27,0.27M-0.27,0.27L0.27,-0.27","M-0.27,-0.27L0.27,0.27M-0.27,0.27L0.27,-0.27"]}, "legend": null},
                "fill": {"field": "s", "type": "nominal", "scale": {"domain": ["A","B","C","D","E","F","G","H","I","J"], "range": ["#6c1ee6","#e9968a","#5a14c8","#f2a08f","#7b2cf2","#ffa090","#1f3cff","#1f3cff","#8e2a8c","#ff1e1e"]}, "legend": null},
                "stroke": {"field": "s", "type": "nominal", "scale": {"domain": ["A","B","C","D","E","F","G","H","I","J"], "range": ["#6c1ee6","#c0705f","#5a14c8","#d07c6c","#7b2cf2","#ffa090","#1f3cff","#1f3cff","#8e2a8c","#ff1e1e"]}, "legend": null}
              }
            },
            {
              "data": {"name": "lines"},
              "transform": [{"filter": "datum.p === 'd'"}],
              "mark": {"type": "rule", "color": "#1f3cff", "strokeWidth": 1.3, "clip": true},
              "encoding": {
                "x2": {"field": "x2"}, "y2": {"field": "y2"},
                "strokeDash": {"field": "k", "type": "nominal", "scale": {"domain": ["b", "m"], "range": [[1, 0], [4, 3]]}, "legend": null}
              }
            }
          ]
        },
        {
          "width": 198, "height": 97,
          "title": {"text": "e.", "dx": -48},
          "encoding": {
            "x": {"field": "x", "type": "quantitative", "scale": {"domain": [0, 1.2], "nice": false, "zero": false}, "axis": {"values": [0, 0.2, 0.4, 0.6, 0.8, 1], "title": "ΔR/R  (x10⁻¹)", "titleX": 99}},
            "y": {"field": "y", "type": "quantitative", "scale": {"domain": [0, 6], "nice": false, "zero": false}, "axis": {"values": [0, 2, 4, 6], "title": "ΔVᴀᴄ/Vᴀᴄ  (x10⁻³)", "titlePadding": 0}}
          },
          "layer": [
            {
              "data": {"name": "pts"},
              "transform": [{"filter": "datum.p === 'e'"}],
              "mark": {"type": "point", "size": 260, "strokeWidth": 1.1, "opacity": 1, "clip": true},
              "encoding": {
                "shape": {"field": "s", "type": "nominal", "scale": {"domain": ["A","B","C","D","E","F","G","H","I","J"], "range": ["M-0.3,0a0.3,0.3 0 1,0 0.6,0a0.3,0.3 0 1,0 -0.6,0Z","M-0.3,0a0.3,0.3 0 1,0 0.6,0a0.3,0.3 0 1,0 -0.6,0Z","M0,-0.38L0.3,0L0,0.38L-0.3,0Z","M0,-0.38L0.3,0L0,0.38L-0.3,0Z","M-0.27,-0.27L0.27,0.27M-0.27,0.27L0.27,-0.27","M-0.27,-0.27L0.27,0.27M-0.27,0.27L0.27,-0.27","M-1,0L1,0","M-1,0L-0.33,0M0.33,0L1,0","M-0.27,-0.27L0.27,0.27M-0.27,0.27L0.27,-0.27","M-0.27,-0.27L0.27,0.27M-0.27,0.27L0.27,-0.27"]}, "legend": null},
                "fill": {"field": "s", "type": "nominal", "scale": {"domain": ["A","B","C","D","E","F","G","H","I","J"], "range": ["#6c1ee6","#e9968a","#5a14c8","#f2a08f","#7b2cf2","#ffa090","#1f3cff","#1f3cff","#8e2a8c","#ff1e1e"]}, "legend": null},
                "stroke": {"field": "s", "type": "nominal", "scale": {"domain": ["A","B","C","D","E","F","G","H","I","J"], "range": ["#6c1ee6","#c0705f","#5a14c8","#d07c6c","#7b2cf2","#ffa090","#1f3cff","#1f3cff","#8e2a8c","#ff1e1e"]}, "legend": null}
              }
            },
            {
              "data": {"name": "lines"},
              "transform": [{"filter": "datum.p === 'e'"}],
              "mark": {"type": "rule", "color": "#1f3cff", "strokeWidth": 1.3, "clip": true},
              "encoding": {
                "x2": {"field": "x2"}, "y2": {"field": "y2"},
                "strokeDash": {"field": "k", "type": "nominal", "scale": {"domain": ["b", "m"], "range": [[1, 0], [4, 3]]}, "legend": null}
              }
            }
          ]
        },
        {
          "width": 196, "height": 97,
          "title": {"text": "f.", "dx": -50},
          "encoding": {
            "x": {"field": "x", "type": "quantitative", "scale": {"domain": [0, 6], "nice": false, "zero": false}, "axis": {"values": [0, 2, 4, 6], "title": "ΔVᴀᴄ/Vᴀᴄ  (x10⁻³)", "titleX": 114}},
            "y": {"field": "y", "type": "quantitative", "scale": {"domain": [-7, 0], "nice": false, "zero": false}, "axis": {"values": [0, -2, -4, -6], "title": "ΔΘ  (x10⁻¹)  Deg.", "titlePadding": -2}}
          },
          "layer": [
            {
              "data": {"name": "pts"},
              "transform": [{"filter": "datum.p === 'f'"}],
              "mark": {"type": "point", "size": 260, "strokeWidth": 1.1, "opacity": 1, "clip": true},
              "encoding": {
                "shape": {"field": "s", "type": "nominal", "scale": {"domain": ["A","B","C","D","E","F","G","H","I","J"], "range": ["M-0.3,0a0.3,0.3 0 1,0 0.6,0a0.3,0.3 0 1,0 -0.6,0Z","M-0.3,0a0.3,0.3 0 1,0 0.6,0a0.3,0.3 0 1,0 -0.6,0Z","M0,-0.38L0.3,0L0,0.38L-0.3,0Z","M0,-0.38L0.3,0L0,0.38L-0.3,0Z","M-0.27,-0.27L0.27,0.27M-0.27,0.27L0.27,-0.27","M-0.27,-0.27L0.27,0.27M-0.27,0.27L0.27,-0.27","M-1,0L1,0","M-1,0L-0.33,0M0.33,0L1,0","M-0.27,-0.27L0.27,0.27M-0.27,0.27L0.27,-0.27","M-0.27,-0.27L0.27,0.27M-0.27,0.27L0.27,-0.27"]}, "legend": null},
                "fill": {"field": "s", "type": "nominal", "scale": {"domain": ["A","B","C","D","E","F","G","H","I","J"], "range": ["#6c1ee6","#e9968a","#5a14c8","#f2a08f","#7b2cf2","#ffa090","#1f3cff","#1f3cff","#8e2a8c","#ff1e1e"]}, "legend": null},
                "stroke": {"field": "s", "type": "nominal", "scale": {"domain": ["A","B","C","D","E","F","G","H","I","J"], "range": ["#6c1ee6","#c0705f","#5a14c8","#d07c6c","#7b2cf2","#ffa090","#1f3cff","#1f3cff","#8e2a8c","#ff1e1e"]}, "legend": null}
              }
            },
            {
              "data": {"name": "lines"},
              "transform": [{"filter": "datum.p === 'f'"}],
              "mark": {"type": "rule", "color": "#1f3cff", "strokeWidth": 1.3, "clip": true},
              "encoding": {
                "x2": {"field": "x2"}, "y2": {"field": "y2"},
                "strokeDash": {"field": "k", "type": "nominal", "scale": {"domain": ["b", "m"], "range": [[1, 0], [4, 3]]}, "legend": null}
              }
            }
          ]
        }
      ],
      "spacing": 7
    }
  ],
  "spacing": -9,
  "config": {
    "font": "Liberation Sans",
    "concat": {"spacing": 7},
    "view": {"stroke": "#262626", "strokeWidth": 2},
    "axis": {
      "labelFont": "Liberation Sans", "labelFontWeight": "bold", "labelFontSize": 12, "labelColor": "#262626",
      "titleFont": "Liberation Sans", "titleFontWeight": "bold", "titleFontSize": 13.5, "titleColor": "#262626",
      "grid": true, "gridColor": "#e4e4e4", "gridWidth": 1, "domain": false, "ticks": false,
      "labelPadding": 3, "labelExpr": "'' + datum.value"
    },
    "axisX": {"titlePadding": 1},
    "title": {"font": "Liberation Sans", "fontSize": 19, "fontWeight": "bold", "color": "#000000", "anchor": "start", "frame": "group", "baseline": "alphabetic", "offset": -8},
    "style": {"guide-label": {"lineHeight": 11}},
    "legend": {
      "symbolSize": 225, "symbolStrokeWidth": 1.4, "labelFont": "Liberation Sans", "labelFontWeight": "bold", "labelFontSize": 10,
      "labelColor": "#111111", "labelOffset": 1, "columnPadding": 2, "padding": 3, "strokeColor": "#222222", "strokeWidth": 1.5,
      "labelLimit": 200, "fillColor": "white"
    }
  }
}
